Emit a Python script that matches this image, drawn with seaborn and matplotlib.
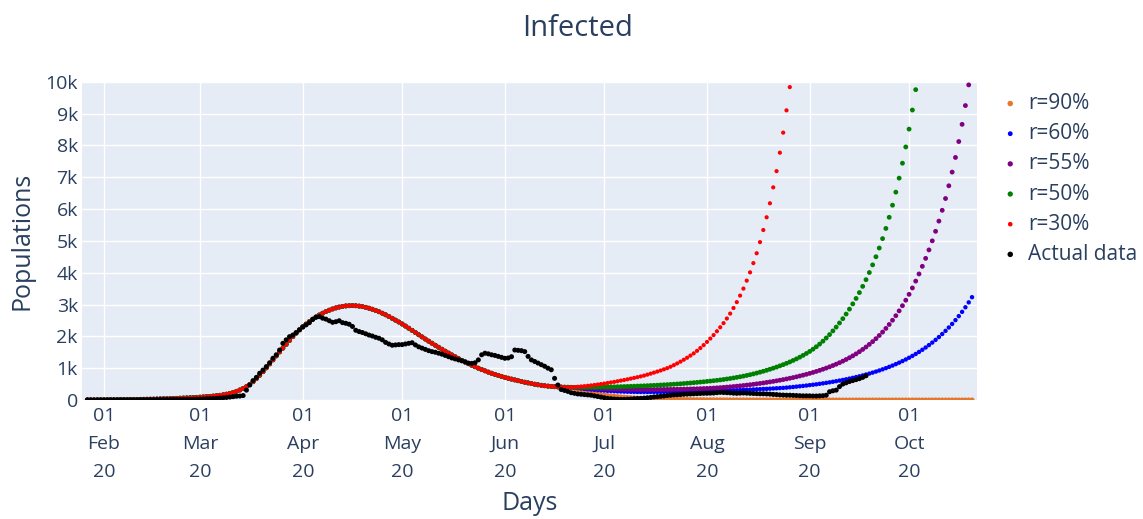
import matplotlib
matplotlib.use("Agg")
import matplotlib.pyplot as plt
import matplotlib.dates as mdates
from matplotlib.ticker import FuncFormatter, MultipleLocator
import pandas as pd
import seaborn as sns

START = "2020-01-27"

# model curve shared by all scenarios (Jan 27 .. Jun 21)
common = [
    5, 5, 6, 6, 7, 8, 8, 9, 10, 11,
    12, 13, 14, 15, 17, 18, 20, 22, 24, 26,
    28, 31, 34, 37, 40, 44, 48, 52, 57, 62,
    66, 71, 77, 83, 90, 97, 105, 114, 124, 135,
    148, 163, 183, 208, 238, 273, 314, 362, 420, 490,
    575, 672, 778, 890, 1010, 1135, 1260, 1385, 1510, 1630,
    1750, 1870, 1990, 2100, 2210, 2300, 2385, 2465, 2540, 2608,
    2670, 2727, 2778, 2822, 2860, 2893, 2920, 2941, 2955, 2963,
    2965, 2961, 2950, 2933, 2911, 2884, 2852, 2815, 2773, 2727,
    2677, 2623, 2566, 2509, 2450, 2388, 2323, 2256, 2188, 2119,
    2050, 1982, 1915, 1849, 1784, 1720, 1657, 1595, 1534, 1474,
    1415, 1357, 1300, 1245, 1192, 1141, 1092, 1045, 1000, 957,
    916, 877, 840, 805, 772, 741, 712, 684, 657, 631,
    606, 582, 559, 537, 516, 496, 478, 462, 448, 436,
    426, 418, 411, 406, 402, 400, 398,
]

# scenario tails from Jun 22 onward
r90_tail = [
    362, 330, 300, 273, 248, 226, 206, 187, 170, 155,
    141, 128, 117, 106, 97, 88, 80, 73, 66, 60,
    55, 50, 46, 42, 38, 34, 31, 28, 26, 24,
    22, 20, 18, 16, 15, 13, 12, 11, 10, 9,
    8, 8, 7, 6, 6, 5, 5, 4, 4, 4,
    3, 3, 3, 3, 2, 2, 2, 2, 2, 2,
    2, 2, 2, 2, 2, 1, 1, 1, 1, 1,
    1, 1, 1, 1, 1, 1, 1, 1, 1, 1,
    1, 1, 1, 1, 1, 1, 1, 1, 1, 1,
    1, 1, 1, 1, 1, 1, 1, 1, 1, 1,
    1, 1, 1, 1, 1, 1, 1, 1, 1, 1,
    1, 1, 1, 1, 1, 1, 1, 1, 1, 1,
    1,
]
r60_tail = [
    385, 372, 360, 349, 338, 328, 319, 310, 302, 295,
    288, 282, 276, 271, 267, 263, 260, 257, 255, 253,
    252, 251, 251, 251, 252, 253, 254, 256, 258, 260,
    261, 263, 265, 267, 269, 271, 273, 275, 277, 279,
    281, 284, 286, 289, 292, 295, 298, 302, 305, 309,
    313, 317, 321, 326, 331, 336, 341, 347, 350, 356,
    362, 368, 374, 381, 389,
    399, 409, 420, 431, 442, 454, 467, 480, 493, 508,
    523, 539, 555, 573, 591, 610, 630, 651, 673, 696,
    720, 745, 772, 800, 830, 860, 893, 927, 963, 1001,
    1041, 1082, 1127, 1173, 1222, 1273, 1328, 1385, 1446, 1510,
    1578, 1649, 1725, 1804, 1889, 1977, 2072, 2172, 2278, 2390,
    2509, 2635, 2769, 2913, 3067, 3230,
]
r55_tail = [
    394, 389, 384, 379, 374, 369, 365, 361, 357, 353,
    350, 347, 344, 342, 340, 338, 336, 335, 334, 333,
    332, 331, 331, 330, 330, 330, 331, 332, 333, 334,
    336, 338, 340, 342, 344, 347, 350, 353, 357, 361,
    365, 369, 375, 382,
    389, 397, 405, 414, 424, 434, 445, 456, 468, 480,
    493, 507, 521, 536, 552, 568, 585, 603, 621, 641,
    661, 683, 705, 729, 754, 780, 807, 836, 866, 898,
    931, 966, 1003, 1042, 1083, 1126, 1172, 1221, 1273, 1328,
    1387, 1450, 1517, 1589, 1665, 1747, 1834, 1927, 2027, 2134,
    2249, 2373, 2506, 2648, 2800, 2962, 3135,
    3320, 3520, 3735, 3960, 4200, 4450, 4715, 5000, 5300, 5620,
    5960, 6330, 6730, 7160, 7620, 8120, 8660, 9250, 9900, 10580,
]
r50_tail = [
    398, 399, 399, 400, 401, 402, 403, 404, 406, 408,
    410, 412, 414, 417, 420, 423, 426, 430, 433, 437,
    441, 446, 450, 455, 460, 465, 471, 477, 483, 489,
    496, 503, 510, 518, 527, 535, 544, 553, 563, 573,
    584, 595, 606, 618, 631,
    645, 660, 676, 693, 711, 730, 750, 772, 795, 820,
    846, 874, 903, 934, 966, 1000, 1035, 1072, 1111, 1152,
    1196, 1243, 1292, 1345, 1402, 1462, 1526, 1596, 1673, 1757,
    1848, 1948, 2055,
    2170, 2290, 2420, 2555, 2700, 2855, 3020, 3190, 3375, 3570,
    3780, 4005, 4245, 4500, 4775, 5070, 5390, 5740, 6120, 6530,
    6970, 7440, 7950, 8510, 9110, 9750, 10430,
]
r30_tail = [
    406, 415, 425, 435, 446, 458, 472, 486, 501, 517,
    534, 552, 570, 589, 609, 629, 650, 672, 694, 717,
    741, 767, 797, 828, 860, 893, 927, 963, 1001, 1045,
    1095, 1148, 1205, 1265, 1328, 1395, 1465, 1545, 1632, 1725,
    1825, 1930, 2040, 2160, 2285, 2415, 2560, 2715, 2890, 3075,
    3280, 3500, 3750, 4010, 4300, 4610, 4960, 5340, 5740, 6180,
    6680, 7190, 7770, 8400, 9100, 9830, 10600,
]

# reported active cases (Jan 27 .. Sep 18)
actual = [
    0, 0, 0, 1, 1, 2, 2, 3, 3, 4,
    4, 5, 5, 6, 6, 7, 8, 8, 9, 10,
    10, 11, 12, 13, 13, 14, 15, 16, 17, 18,
    20, 22, 24, 27, 30, 34, 38, 43, 48, 55,
    62, 70, 80, 92, 105, 118, 125, 140, 310, 470,
    610, 710, 840, 940, 1050, 1170, 1310, 1420, 1570, 1780,
    1890, 1990, 2040, 2120, 2200, 2290, 2360, 2430, 2530, 2600,
    2620, 2570, 2540, 2490, 2440, 2460, 2490, 2430, 2410, 2380,
    2310, 2190, 2150, 2120, 2080, 2040, 2010, 1970, 1940, 1890,
    1810, 1760, 1720, 1730, 1740, 1740, 1760, 1780, 1800, 1730,
    1670, 1630, 1590, 1550, 1520, 1500, 1470, 1440, 1400, 1360,
    1320, 1290, 1260, 1230, 1200, 1160, 1150, 1170, 1260, 1420,
    1470, 1450, 1420, 1400, 1370, 1340, 1310, 1320, 1360, 1570,
    1560, 1550, 1520, 1370, 1260, 1210, 1160, 1110, 1060, 1000,
    950, 680, 470, 330, 300, 270, 230, 210, 190, 180,
    170, 160, 150, 130, 110, 90, 70, 50, 40, 30,
    25, 20, 20, 25, 30, 40, 45, 50, 60, 70,
    80, 95, 105, 115, 125, 140, 150, 160, 165, 170,
    180, 185, 190, 195, 200, 205, 210, 210, 215, 220,
    230, 240, 235, 230, 225, 215, 210, 215, 220, 215,
    210, 205, 200, 195, 195, 190, 185, 175, 170, 160,
    155, 150, 150, 145, 140, 135, 130, 130, 130, 125,
    125, 130, 135, 150, 260, 290, 310, 420, 500, 540,
    580, 610, 640, 670, 710, 760,
]

series_names = ["r=90%", "r=60%", "r=55%", "r=50%", "r=30%", "Actual data"]
series_values = [common + r90_tail, common + r60_tail, common + r55_tail,
                 common + r50_tail, common + r30_tail, actual]
series_colors = ["#E8772E", "#0000FF", "#800080", "#008000", "#FF0000", "#000000"]
series_sizes = [13, 10, 12, 12, 9, 13]

frames = []
for name, vals in zip(series_names, series_values):
    frames.append(pd.DataFrame({
        "date": pd.date_range(START, periods=len(vals), freq="D"),
        "value": vals,
        "series": name,
    }))
df = pd.concat(frames, ignore_index=True)

sns.set_theme(style="white")
plt.rcParams["font.family"] = ["Open Sans", "DejaVu Sans"]
TXT = "#2a3f5f"

fig = plt.figure(figsize=(11.43, 5.19), dpi=100)
ax = fig.add_axes([82 / 1143, 1 - 400 / 519, 895 / 1143, (400 - 81.7) / 519])
ax.set_facecolor("#E5ECF6")

for name, col, sz in zip(series_names, series_colors, series_sizes):
    sub = df[df["series"] == name]
    sns.scatterplot(data=sub, x="date", y="value", color=col, s=sz,
                    linewidth=0, edgecolor="none", ax=ax, label=name, zorder=3)

start = pd.Timestamp(START)
ax.set_xlim(mdates.date2num(start - pd.Timedelta(days=1.63)),
            mdates.date2num(start + pd.Timedelta(days=268.5)))
ax.set_ylim(0, 10000)

month_ticks = pd.date_range("2020-02-01", "2020-10-01", freq="MS")
ax.set_xticks(mdates.date2num(month_ticks))
ax.xaxis.set_major_formatter(mdates.DateFormatter("%d\n%b\n%y"))
ax.yaxis.set_major_locator(MultipleLocator(1000))
ax.yaxis.set_major_formatter(FuncFormatter(lambda v, p: "0" if v == 0 else f"{int(v/1000)}k"))

ax.grid(True, color="white", linewidth=1.0)
ax.set_axisbelow(True)
for s in ax.spines.values():
    s.set_visible(False)
ax.tick_params(axis="both", length=0, colors=TXT, labelsize=14)
ax.tick_params(axis="x", pad=5)
ax.tick_params(axis="y", pad=3)
for lab in ax.get_xticklabels():
    lab.set_linespacing(1.72)

ax.set_xlabel("Days", fontsize=18, color=TXT, va="center")
ax.xaxis.set_label_coords(0.5, -(503 - 400) / 318.3)
ax.set_ylabel("Populations", fontsize=18, color=TXT, va="center")
ax.yaxis.set_label_coords(-(82 - 22) / 895, 0.5)
fig.text(578 / 1143, 1 - 28 / 519, "Infected", fontsize=21, color=TXT,
         ha="center", va="center")

ax.legend_.remove()
handles, labels = ax.get_legend_handles_labels()
leg = fig.legend(handles, labels, loc="upper left",
                 bbox_to_anchor=(1004 / 1143, 1 - 93 / 519),
                 frameon=False, fontsize=15, handlelength=0.6,
                 handletextpad=0.55, labelspacing=0.44, borderpad=0,
                 borderaxespad=0, markerscale=1.1)
for t in leg.get_texts():
    t.set_color(TXT)

fig.savefig("out.png", dpi=100)
